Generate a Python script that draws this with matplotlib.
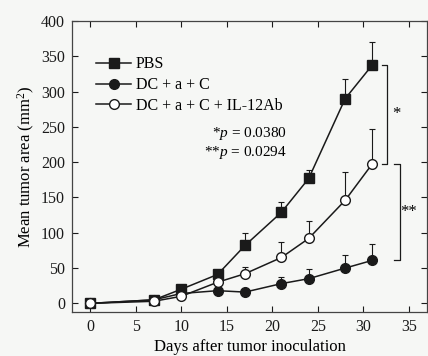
import numpy as np
import matplotlib.pyplot as plt

plt.rcParams['font.family'] = ['Liberation Serif', 'DejaVu Serif']
plt.rcParams['mathtext.fontset'] = 'custom'
plt.rcParams['mathtext.rm'] = 'Liberation Serif'
plt.rcParams['mathtext.it'] = 'Liberation Serif:italic'

days = [0, 7, 10, 14, 17, 21, 24, 28, 31]
pbs = [0, 5, 20, 41, 82, 129, 177, 290, 338]
pbs_err = [2, 3, 4, 6, 18, 14, 12, 28, 32]
dc = [0, 5, 14, 18, 16, 28, 35, 50, 61]
dc_err = [1, 2, 3, 4, 3, 10, 13, 18, 23]
dc_ab = [0, 3, 10, 30, 42, 65, 92, 146, 198]
dc_ab_err = [1, 2, 3, 5, 10, 22, 24, 40, 49]

labels = ['PBS', 'DC + a + C', 'DC + a + C + IL-12Ab']

fig = plt.figure(figsize=(4.28, 3.56), dpi=100)
fig.patch.set_facecolor('#f6f7f5')
ax = fig.add_axes([0.168, 0.124, 0.83, 0.817])
ax.set_facecolor('#f6f7f5')

ink = '#1a1a1a'

# error bars, upward only
for y, e in [(pbs, pbs_err), (dc, dc_err), (dc_ab, dc_ab_err)]:
    ax.errorbar(days, y, yerr=[np.zeros(len(e)), e], fmt='none',
                ecolor=ink, elinewidth=0.8, capsize=2, capthick=0.8)

ax.plot(days, pbs, '-s', color=ink, mfc=ink, ms=7, lw=1.1, label=labels[0])
ax.plot(days, dc, '-o', color=ink, mfc=ink, ms=7, lw=1.1, label=labels[1])
ax.plot(days, dc_ab, '-o', color=ink, mfc='white', ms=7, lw=1.1, label=labels[2])

ax.set_xlim(-2, 37)
ax.set_ylim(-12, 400)
ax.set_xticks(range(0, 36, 5))
ax.set_yticks(range(0, 401, 50))
ax.tick_params(direction='in', top=True, right=True, labelsize=11.5,
               length=4, width=0.8, colors=ink, pad=5)
for s in ax.spines.values():
    s.set_linewidth(0.9)
    s.set_color('#444444')

ax.set_xlabel('Days after tumor inoculation', fontsize=12, labelpad=3)
ax.set_ylabel('Mean tumor area (mm$^2$)', fontsize=12, labelpad=3)

ax.legend(loc='upper left', bbox_to_anchor=(0.05, 0.90), frameon=False,
          fontsize=11.5, handlelength=2.2, handletextpad=0.3,
          labelspacing=0.3, borderaxespad=0)

ax.text(21.6, 241, '*$\\mathit{p}$ = 0.0380', fontsize=11, ha='right', va='center')
ax.text(21.6, 214, '**$\\mathit{p}$ = 0.0294', fontsize=11, ha='right', va='center')

# significance brackets
def bracket(x, y0, y1, mark, dx=0.6):
    ax.plot([x - dx, x, x, x - dx], [y1, y1, y0, y0], color=ink, lw=0.9,
            clip_on=False)
    ax.text(x + 1.0, (y0 + y1) / 2, mark, fontsize=12, ha='center', va='center')

bracket(32.6, dc_ab[-1], pbs[-1], '*')
bracket(34.0, dc[-1], dc_ab[-1], '**')

fig.savefig('out.png', dpi=100, facecolor=fig.get_facecolor())
